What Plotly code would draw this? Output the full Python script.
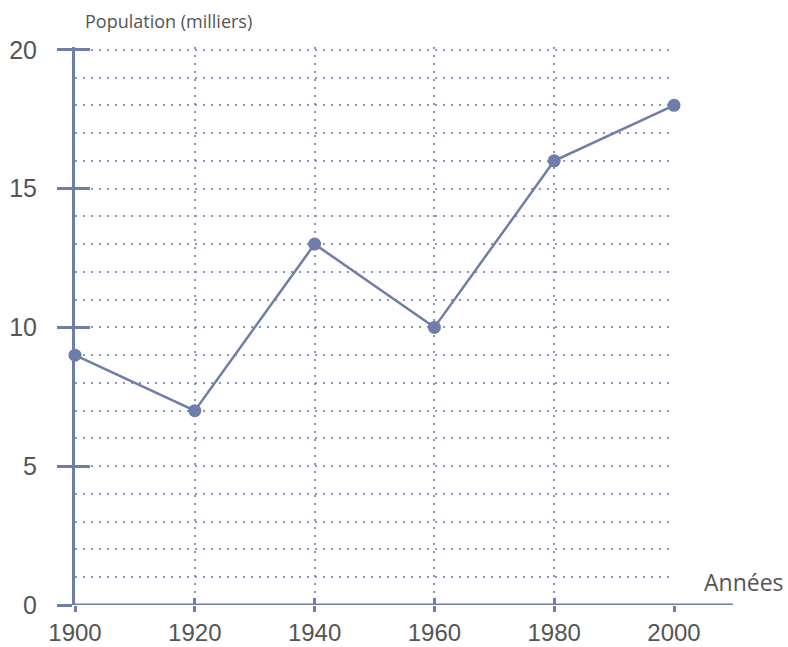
import plotly.graph_objects as go

years = [1900, 1920, 1940, 1960, 1980, 2000]
population = [9, 7, 13, 10, 16, 18]
y_ticks = [0, 5, 10, 15, 20]
x_ticks = [1900, 1920, 1940, 1960, 1980, 2000]

AX = "#6e7ea8"
GRID = "#8a98c0"
TXT = "#555555"
FONT = "Open Sans"
TICKFONT = "Liberation Sans"

W, H = 788, 647
L, R, T, B = 75, 114, 47, 42
plot_w = W - L - R
axis_end = (733 - L) / plot_w

fig = go.Figure()
fig.add_trace(go.Scatter(
    x=years, y=population, mode="lines+markers",
    line=dict(color=AX, width=2.5),
    marker=dict(color=AX, size=13),
    xaxis="x", yaxis="y", showlegend=False, hoverinfo="skip", cliponaxis=False,
))
# helper invisible traces so overlay axes are drawn
fig.add_trace(go.Scatter(x=[1900], y=[0], mode="markers", marker=dict(opacity=0),
                         xaxis="x2", yaxis="y", showlegend=False, hoverinfo="skip"))
fig.add_trace(go.Scatter(x=[1900], y=[0], mode="markers", marker=dict(opacity=0),
                         xaxis="x", yaxis="y2", showlegend=False, hoverinfo="skip"))

yr = [0, 20.1]
xr = [1900, 2000]

fig.update_layout(
    width=W, height=H,
    margin=dict(l=L, r=R, t=T, b=B, pad=0, autoexpand=False),
    plot_bgcolor="rgba(0,0,0,0)", paper_bgcolor="white",
    font=dict(family=FONT, color=TXT),
    xaxis=dict(
        range=xr, anchor="y", automargin=False,
        tickmode="array", tickvals=x_ticks, ticktext=[str(v) for v in x_ticks],
        ticks="outside", ticklen=6, tickwidth=3, tickcolor=AX,
        ticklabelstandoff=0,
        tickfont=dict(size=24, color=TXT, family=TICKFONT),
        showgrid=True, gridcolor=GRID, griddash="2px,6px", gridwidth=1.5,
        showline=False, zeroline=False,
    ),
    xaxis2=dict(
        range=xr, anchor="y", overlaying="x", automargin=False,
        tickmode="array", tickvals=x_ticks,
        ticks="inside", ticklen=7, tickwidth=3, tickcolor=AX,
        showticklabels=False, showgrid=False, zeroline=False, showline=False,
    ),
    yaxis=dict(
        range=yr, anchor="x", automargin=False,
        tickmode="array", tickvals=y_ticks, ticktext=[str(v) for v in y_ticks],
        ticks="outside", ticklen=15, tickwidth=2.5, tickcolor=AX,
        ticklabelstandoff=15,
        tickfont=dict(size=25, color=TXT, family=TICKFONT),
        showgrid=True, gridcolor=GRID, griddash="2px,6px", gridwidth=1.5,
        minor=dict(dtick=1, tick0=0, showgrid=True, gridcolor=GRID,
                   griddash="2px,6px", gridwidth=1.5, ticks=""),
        showline=True, linecolor=AX, linewidth=3, zeroline=False,
    ),
    yaxis2=dict(
        range=yr, anchor="x", overlaying="y", automargin=False,
        tickmode="array", tickvals=y_ticks[1:],
        ticks="inside", ticklen=15, tickwidth=2.5, tickcolor=AX,
        showticklabels=False, showgrid=False, zeroline=False, showline=False,
    ),
    shapes=[
        dict(type="line", xref="paper", yref="y", x0=-0.003, x1=axis_end, y0=0, y1=0,
             line=dict(color=AX, width=3), layer="above"),
    ],
    annotations=[
        dict(text="Population (milliers)", xref="paper", yref="paper",
             x=(83 - L) / plot_w, y=1, xanchor="left", yanchor="bottom",
             yshift=12, showarrow=False, font=dict(size=18, color=TXT, family=FONT)),
        dict(text="Années", xref="paper", yref="paper",
             x=1, y=0, xanchor="right", yanchor="bottom",
             xshift=112, yshift=5, showarrow=False,
             font=dict(size=23, color=TXT, family=FONT)),
    ],
)

fig.write_html(
    "out.html",
    config={"displayModeBar": False},
    post_script="document.body.style.margin='0';document.body.style.overflow='hidden';",
)
